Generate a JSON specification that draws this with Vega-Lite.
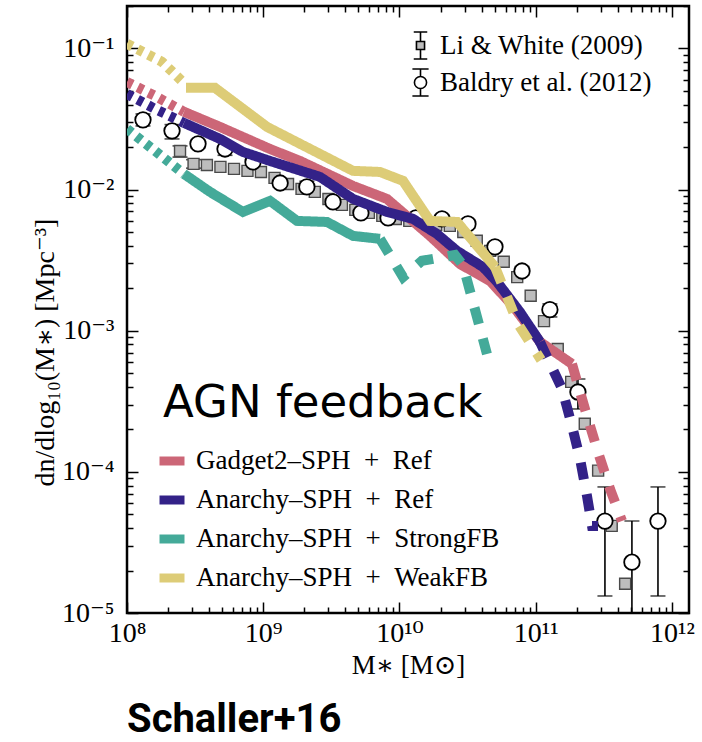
{
  "$schema": "https://vega.github.io/schema/vega-lite/v6.json",
  "width": 562,
  "height": 607,
  "autosize": {"type": "none"},
  "padding": {"left": 127, "top": 6, "right": 13, "bottom": 129},
  "background": "white",
  "title": {
    "text": "Schaller+16",
    "orient": "bottom",
    "anchor": "start",
    "frame": "group",
    "font": "Roboto",
    "fontSize": 40,
    "fontWeight": "bold",
    "color": "black",
    "offset": 22
  },
  "datasets": {
    "obs": [
      {"survey": "Li & White (2009)", "m": 2.45e8, "phi": 0.01879, "lo": 0.0170, "hi": 0.0204},
      {"survey": "Li & White (2009)", "m": 3.08e8, "phi": 0.01521, "lo": 0.01419, "hi": 0.0163},
      {"survey": "Li & White (2009)", "m": 3.86e8, "phi": 0.01496},
      {"survey": "Li & White (2009)", "m": 4.85e8, "phi": 0.01449},
      {"survey": "Li & White (2009)", "m": 6.10e8, "phi": 0.01403},
      {"survey": "Li & White (2009)", "m": 7.66e8, "phi": 0.01358},
      {"survey": "Li & White (2009)", "m": 9.62e8, "phi": 0.01334},
      {"survey": "Li & White (2009)", "m": 1.21e9, "phi": 0.01211},
      {"survey": "Li & White (2009)", "m": 1.52e9, "phi": 0.01096},
      {"survey": "Li & White (2009)", "m": 1.91e9, "phi": 0.01012},
      {"survey": "Li & White (2009)", "m": 2.39e9, "phi": 0.00964},
      {"survey": "Li & White (2009)", "m": 3.01e9, "phi": 0.00859},
      {"survey": "Li & White (2009)", "m": 3.78e9, "phi": 0.00780},
      {"survey": "Li & White (2009)", "m": 4.74e9, "phi": 0.00718},
      {"survey": "Li & White (2009)", "m": 5.96e9, "phi": 0.00684},
      {"survey": "Li & White (2009)", "m": 7.48e9, "phi": 0.00652},
      {"survey": "Li & White (2009)", "m": 9.40e9, "phi": 0.00619},
      {"survey": "Li & White (2009)", "m": 1.18e10, "phi": 0.00600},
      {"survey": "Li & White (2009)", "m": 1.48e10, "phi": 0.00581},
      {"survey": "Li & White (2009)", "m": 1.86e10, "phi": 0.00562},
      {"survey": "Li & White (2009)", "m": 2.34e10, "phi": 0.00553},
      {"survey": "Li & White (2009)", "m": 2.94e10, "phi": 0.00501},
      {"survey": "Li & White (2009)", "m": 3.69e10, "phi": 0.00434},
      {"survey": "Li & White (2009)", "m": 4.63e10, "phi": 0.00368},
      {"survey": "Li & White (2009)", "m": 5.82e10, "phi": 0.00308},
      {"survey": "Li & White (2009)", "m": 7.31e10, "phi": 0.00240},
      {"survey": "Li & White (2009)", "m": 9.18e10, "phi": 0.00177},
      {"survey": "Li & White (2009)", "m": 1.15e11, "phi": 0.00117},
      {"survey": "Li & White (2009)", "m": 1.45e11, "phi": 0.000743},
      {"survey": "Li & White (2009)", "m": 1.82e11, "phi": 0.000434},
      {"survey": "Li & White (2009)", "m": 2.29e11, "phi": 0.000219},
      {"survey": "Li & White (2009)", "m": 2.87e11, "phi": 0.000102},
      {"survey": "Li & White (2009)", "m": 3.61e11, "phi": 0.0000414},
      {"survey": "Li & White (2009)", "m": 4.53e11, "phi": 0.0000161},
      {"survey": "Baldry et al. (2012)", "m": 1.31e8, "phi": 0.0312, "lo": 0.02825, "hi": 0.03436},
      {"survey": "Baldry et al. (2012)", "m": 2.14e8, "phi": 0.0261, "lo": 0.02286, "hi": 0.0289},
      {"survey": "Baldry et al. (2012)", "m": 3.32e8, "phi": 0.0211, "lo": 0.0197, "hi": 0.0226},
      {"survey": "Baldry et al. (2012)", "m": 5.24e8, "phi": 0.0194, "lo": 0.0175, "hi": 0.0215},
      {"survey": "Baldry et al. (2012)", "m": 8.41e8, "phi": 0.0157, "lo": 0.01415, "hi": 0.01742},
      {"survey": "Baldry et al. (2012)", "m": 1.33e9, "phi": 0.01114, "lo": 0.0104, "hi": 0.01194},
      {"survey": "Baldry et al. (2012)", "m": 2.09e9, "phi": 0.01045, "lo": 0.00953, "hi": 0.01146},
      {"survey": "Baldry et al. (2012)", "m": 3.25e9, "phi": 0.00818, "lo": 0.00764, "hi": 0.00877},
      {"survey": "Baldry et al. (2012)", "m": 5.21e9, "phi": 0.00684, "lo": 0.00638, "hi": 0.00733},
      {"survey": "Baldry et al. (2012)", "m": 8.24e9, "phi": 0.00630, "lo": 0.00588, "hi": 0.00675},
      {"survey": "Baldry et al. (2012)", "m": 1.32e10, "phi": 0.00630, "lo": 0.00588, "hi": 0.00675},
      {"survey": "Baldry et al. (2012)", "m": 2.05e10, "phi": 0.00620, "lo": 0.00579, "hi": 0.00664},
      {"survey": "Baldry et al. (2012)", "m": 3.18e10, "phi": 0.00571, "lo": 0.00533, "hi": 0.00612},
      {"survey": "Baldry et al. (2012)", "m": 5.02e10, "phi": 0.00393, "lo": 0.00366, "hi": 0.00421},
      {"survey": "Baldry et al. (2012)", "m": 7.93e10, "phi": 0.00265, "lo": 0.00248, "hi": 0.00285},
      {"survey": "Baldry et al. (2012)", "m": 1.27e11, "phi": 0.00141, "lo": 0.001253, "hi": 0.001549},
      {"survey": "Baldry et al. (2012)", "m": 2.04e11, "phi": 0.000368, "lo": 0.000279, "hi": 0.000455},
      {"survey": "Baldry et al. (2012)", "m": 3.22e11, "phi": 0.0000448, "lo": 0.0000132, "hi": 0.0000782},
      {"survey": "Baldry et al. (2012)", "m": 5.08e11, "phi": 0.0000229, "lo": 0.000001, "hi": 0.0000449},
      {"survey": "Baldry et al. (2012)", "m": 7.89e11, "phi": 0.0000448, "lo": 0.0000132, "hi": 0.0000782}
    ],
    "sims": [
      {"model": "Gadget2–SPH + Ref", "part": "dotted", "m": 1.0e8, "phi": 0.0579},
      {"model": "Gadget2–SPH + Ref", "part": "dotted", "m": 1.607e8, "phi": 0.0461},
      {"model": "Gadget2–SPH + Ref", "part": "dotted", "m": 2.618e8, "phi": 0.0356},
      {"model": "Gadget2–SPH + Ref", "part": "solid", "m": 2.618e8, "phi": 0.0356},
      {"model": "Gadget2–SPH + Ref", "part": "solid", "m": 4.819e8, "phi": 0.0278},
      {"model": "Gadget2–SPH + Ref", "part": "solid", "m": 1.122e9, "phi": 0.0194},
      {"model": "Gadget2–SPH + Ref", "part": "solid", "m": 1.862e9, "phi": 0.01596},
      {"model": "Gadget2–SPH + Ref", "part": "solid", "m": 4.560e9, "phi": 0.01062},
      {"model": "Gadget2–SPH + Ref", "part": "solid", "m": 8.091e9, "phi": 0.00859},
      {"model": "Gadget2–SPH + Ref", "part": "solid", "m": 1.675e10, "phi": 0.00470},
      {"model": "Gadget2–SPH + Ref", "part": "solid", "m": 2.780e10, "phi": 0.00297},
      {"model": "Gadget2–SPH + Ref", "part": "solid", "m": 4.613e10, "phi": 0.002254},
      {"model": "Gadget2–SPH + Ref", "part": "solid", "m": 6.808e10, "phi": 0.00150},
      {"model": "Gadget2–SPH + Ref", "part": "solid", "m": 1.074e11, "phi": 0.000834},
      {"model": "Gadget2–SPH + Ref", "part": "solid", "m": 1.845e11, "phi": 0.000582},
      {"model": "Gadget2–SPH + Ref", "part": "dashed", "m": 1.845e11, "phi": 0.000582},
      {"model": "Gadget2–SPH + Ref", "part": "dashed", "m": 2.296e11, "phi": 0.000279},
      {"model": "Gadget2–SPH + Ref", "part": "dashed", "m": 2.864e11, "phi": 0.000138},
      {"model": "Gadget2–SPH + Ref", "part": "dashed", "m": 3.508e11, "phi": 0.0000757},
      {"model": "Gadget2–SPH + Ref", "part": "dashed", "m": 4.295e11, "phi": 0.0000449},
      {"model": "Anarchy–SPH + Ref", "part": "dotted", "m": 1.0e8, "phi": 0.0476},
      {"model": "Anarchy–SPH + Ref", "part": "dotted", "m": 1.607e8, "phi": 0.0373},
      {"model": "Anarchy–SPH + Ref", "part": "dotted", "m": 2.618e8, "phi": 0.0297},
      {"model": "Anarchy–SPH + Ref", "part": "solid", "m": 2.618e8, "phi": 0.0297},
      {"model": "Anarchy–SPH + Ref", "part": "solid", "m": 4.819e8, "phi": 0.02286},
      {"model": "Anarchy–SPH + Ref", "part": "solid", "m": 7.096e8, "phi": 0.01849},
      {"model": "Anarchy–SPH + Ref", "part": "solid", "m": 1.122e9, "phi": 0.01596},
      {"model": "Anarchy–SPH + Ref", "part": "solid", "m": 2.612e9, "phi": 0.01230},
      {"model": "Anarchy–SPH + Ref", "part": "solid", "m": 4.560e9, "phi": 0.00859},
      {"model": "Anarchy–SPH + Ref", "part": "solid", "m": 8.091e9, "phi": 0.00695},
      {"model": "Anarchy–SPH + Ref", "part": "solid", "m": 1.256e10, "phi": 0.00620},
      {"model": "Anarchy–SPH + Ref", "part": "solid", "m": 1.884e10, "phi": 0.00485},
      {"model": "Anarchy–SPH + Ref", "part": "solid", "m": 2.642e10, "phi": 0.00368},
      {"model": "Anarchy–SPH + Ref", "part": "solid", "m": 4.102e10, "phi": 0.00283},
      {"model": "Anarchy–SPH + Ref", "part": "solid", "m": 5.200e10, "phi": 0.00222},
      {"model": "Anarchy–SPH + Ref", "part": "solid", "m": 7.656e10, "phi": 0.001358},
      {"model": "Anarchy–SPH + Ref", "part": "solid", "m": 1.074e11, "phi": 0.000834},
      {"model": "Anarchy–SPH + Ref", "part": "dashed", "m": 1.074e11, "phi": 0.000834},
      {"model": "Anarchy–SPH + Ref", "part": "dashed", "m": 1.560e11, "phi": 0.000387},
      {"model": "Anarchy–SPH + Ref", "part": "dashed", "m": 1.845e11, "phi": 0.000212},
      {"model": "Anarchy–SPH + Ref", "part": "dashed", "m": 2.113e11, "phi": 0.000124},
      {"model": "Anarchy–SPH + Ref", "part": "dashed", "m": 2.377e11, "phi": 0.0000676},
      {"model": "Anarchy–SPH + Ref", "part": "dashed", "m": 2.588e11, "phi": 0.0000414},
      {"model": "Anarchy–SPH + Ref", "part": "dashed", "m": 2.864e11, "phi": 0.0000414},
      {"model": "Anarchy–SPH + StrongFB", "part": "dotted", "m": 1.0e8, "phi": 0.0269},
      {"model": "Anarchy–SPH + StrongFB", "part": "dotted", "m": 1.607e8, "phi": 0.01879},
      {"model": "Anarchy–SPH + StrongFB", "part": "dotted", "m": 2.618e8, "phi": 0.01291},
      {"model": "Anarchy–SPH + StrongFB", "part": "solid", "m": 2.618e8, "phi": 0.01291},
      {"model": "Anarchy–SPH + StrongFB", "part": "solid", "m": 4.064e8, "phi": 0.00964},
      {"model": "Anarchy–SPH + StrongFB", "part": "solid", "m": 7.096e8, "phi": 0.00695},
      {"model": "Anarchy–SPH + StrongFB", "part": "solid", "m": 1.122e9, "phi": 0.00832},
      {"model": "Anarchy–SPH + StrongFB", "part": "solid", "m": 1.770e9, "phi": 0.00600},
      {"model": "Anarchy–SPH + StrongFB", "part": "solid", "m": 2.938e9, "phi": 0.00590},
      {"model": "Anarchy–SPH + StrongFB", "part": "solid", "m": 4.560e9, "phi": 0.00470},
      {"model": "Anarchy–SPH + StrongFB", "part": "solid", "m": 7.194e9, "phi": 0.00448},
      {"model": "Anarchy–SPH + StrongFB", "part": "dashed", "m": 7.194e9, "phi": 0.00448},
      {"model": "Anarchy–SPH + StrongFB", "part": "dashed", "m": 1.062e10, "phi": 0.00240},
      {"model": "Anarchy–SPH + StrongFB", "part": "dashed", "m": 1.462e10, "phi": 0.00313},
      {"model": "Anarchy–SPH + StrongFB", "part": "dashed", "m": 2.553e10, "phi": 0.00344},
      {"model": "Anarchy–SPH + StrongFB", "part": "dashed", "m": 2.924e10, "phi": 0.00292},
      {"model": "Anarchy–SPH + StrongFB", "part": "dashed", "m": 4.385e10, "phi": 0.000685},
      {"model": "Anarchy–SPH + WeakFB", "part": "dotted", "m": 1.0e8, "phi": 0.108},
      {"model": "Anarchy–SPH + WeakFB", "part": "dotted", "m": 1.807e8, "phi": 0.0804},
      {"model": "Anarchy–SPH + WeakFB", "part": "dotted", "m": 2.618e8, "phi": 0.0570},
      {"model": "Anarchy–SPH + WeakFB", "part": "solid", "m": 2.710e8, "phi": 0.0526},
      {"model": "Anarchy–SPH + WeakFB", "part": "solid", "m": 4.426e8, "phi": 0.0526},
      {"model": "Anarchy–SPH + WeakFB", "part": "solid", "m": 1.067e9, "phi": 0.0278},
      {"model": "Anarchy–SPH + WeakFB", "part": "solid", "m": 4.560e9, "phi": 0.01358},
      {"model": "Anarchy–SPH + WeakFB", "part": "solid", "m": 7.194e9, "phi": 0.01334},
      {"model": "Anarchy–SPH + WeakFB", "part": "solid", "m": 1.062e10, "phi": 0.01153},
      {"model": "Anarchy–SPH + WeakFB", "part": "solid", "m": 1.675e10, "phi": 0.00600},
      {"model": "Anarchy–SPH + WeakFB", "part": "solid", "m": 2.642e10, "phi": 0.00590},
      {"model": "Anarchy–SPH + WeakFB", "part": "solid", "m": 5.023e10, "phi": 0.00283},
      {"model": "Anarchy–SPH + WeakFB", "part": "dashed", "m": 5.023e10, "phi": 0.00283},
      {"model": "Anarchy–SPH + WeakFB", "part": "dashed", "m": 7.41e10, "phi": 0.001117},
      {"model": "Anarchy–SPH + WeakFB", "part": "dashed", "m": 1.094e11, "phi": 0.000621}
    ],
    "note": [
      {"label": "AGN feedback", "m": 1.84e8, "phi": 0.000245}
    ]
  },
  "layer": [
    {
      "data": {"name": "obs"},
      "transform": [{"filter": "isValid(datum.lo)"}],
      "mark": {"type": "rule", "color": "black", "strokeWidth": 1.6, "clip": true},
      "encoding": {
        "x": {
          "field": "m",
          "type": "quantitative",
          "scale": {"type": "log", "domain": [1e8, 1.333e12], "nice": false},
          "axis": {
            "orient": "bottom",
            "values": [1e8, 2e8, 3e8, 4e8, 5e8, 6e8, 7e8, 8e8, 9e8, 1e9, 2e9, 3e9, 4e9, 5e9, 6e9, 7e9, 8e9, 9e9, 1e10, 2e10, 3e10, 4e10, 5e10, 6e10, 7e10, 8e10, 9e10, 1e11, 2e11, 3e11, 4e11, 5e11, 6e11, 7e11, 8e11, 9e11, 1e12],
            "tickSize": {"condition": {"test": "abs(log(datum.value)/LN10 - round(log(datum.value)/LN10)) < 1e-6", "value": -11}, "value": -6},
            "labelExpr": "abs(log(datum.value)/LN10 - round(log(datum.value)/LN10)) < 1e-6 ? ['10⁸','10⁹','10¹⁰','10¹¹','10¹²'][round(log(datum.value)/LN10) - 8] : ''",
            "labelPadding": 17,
            "title": "M∗ [M⊙]",
            "titleY": 52,
            "titleBaseline": "middle"
          }
        },
        "y": {
          "field": "lo",
          "type": "quantitative",
          "scale": {"type": "log", "domain": [1e-5, 0.2], "nice": false},
          "axis": {
            "orient": "left",
            "values": [1e-5, 2e-5, 3e-5, 4e-5, 5e-5, 6e-5, 7e-5, 8e-5, 9e-5, 1e-4, 2e-4, 3e-4, 4e-4, 5e-4, 6e-4, 7e-4, 8e-4, 9e-4, 0.001, 0.002, 0.003, 0.004, 0.005, 0.006, 0.007, 0.008, 0.009, 0.01, 0.02, 0.03, 0.04, 0.05, 0.06, 0.07, 0.08, 0.09, 0.1, 0.2],
            "tickSize": {"condition": {"test": "abs(log(datum.value)/LN10 - round(log(datum.value)/LN10)) < 1e-6", "value": -11}, "value": -6},
            "labelExpr": "abs(log(datum.value)/LN10 - round(log(datum.value)/LN10)) < 1e-6 ? ['10⁻⁵','10⁻⁴','10⁻³','10⁻²','10⁻¹'][round(log(datum.value)/LN10) + 5] : ''",
            "labelPadding": 24,
            "title": "dn/dlog₁₀(M∗) [Mpc⁻³]",
            "titleFontSize": 28,
            "titleX": -82,
            "titleY": 346,
            "titleBaseline": "middle"
          }
        },
        "y2": {"field": "hi"}
      }
    },
    {
      "data": {"name": "obs"},
      "transform": [
        {"filter": "isValid(datum.lo)"},
        {"fold": ["lo", "hi"], "as": ["bound", "errv"]}
      ],
      "mark": {"type": "tick", "orient": "horizontal", "color": "black", "size": 15, "thickness": 1.6, "clip": true},
      "encoding": {
        "x": {
          "field": "m",
          "type": "quantitative",
          "axis": {
            "orient": "top",
            "values": [1e8, 2e8, 3e8, 4e8, 5e8, 6e8, 7e8, 8e8, 9e8, 1e9, 2e9, 3e9, 4e9, 5e9, 6e9, 7e9, 8e9, 9e9, 1e10, 2e10, 3e10, 4e10, 5e10, 6e10, 7e10, 8e10, 9e10, 1e11, 2e11, 3e11, 4e11, 5e11, 6e11, 7e11, 8e11, 9e11, 1e12],
            "tickSize": {"condition": {"test": "abs(log(datum.value)/LN10 - round(log(datum.value)/LN10)) < 1e-6", "value": -11}, "value": -6},
            "labels": false,
            "title": null
          }
        },
        "y": {
          "field": "errv",
          "type": "quantitative",
          "axis": {
            "orient": "right",
            "values": [1e-5, 2e-5, 3e-5, 4e-5, 5e-5, 6e-5, 7e-5, 8e-5, 9e-5, 1e-4, 2e-4, 3e-4, 4e-4, 5e-4, 6e-4, 7e-4, 8e-4, 9e-4, 0.001, 0.002, 0.003, 0.004, 0.005, 0.006, 0.007, 0.008, 0.009, 0.01, 0.02, 0.03, 0.04, 0.05, 0.06, 0.07, 0.08, 0.09, 0.1, 0.2],
            "tickSize": {"condition": {"test": "abs(log(datum.value)/LN10 - round(log(datum.value)/LN10)) < 1e-6", "value": -11}, "value": -6},
            "labels": false,
            "title": null
          }
        }
      }
    },
    {
      "data": {"name": "obs"},
      "transform": [{"filter": "datum.survey === 'Li & White (2009)'"}],
      "mark": {"type": "point", "shape": "square", "filled": true, "fill": "#bdbdbd", "stroke": "#4a4a4a", "strokeWidth": 1.4, "size": 121, "opacity": 1, "clip": true},
      "encoding": {
        "x": {"field": "m", "type": "quantitative", "axis": null},
        "y": {"field": "phi", "type": "quantitative", "axis": null}
      }
    },
    {
      "data": {"name": "obs"},
      "transform": [{"filter": "datum.survey === 'Baldry et al. (2012)'"}],
      "mark": {"type": "point", "shape": "circle", "filled": true, "fill": "#ffffff", "stroke": "black", "strokeWidth": 1.8, "size": 240, "opacity": 1, "clip": true},
      "encoding": {
        "x": {"field": "m", "type": "quantitative", "axis": null},
        "y": {"field": "phi", "type": "quantitative", "axis": null}
      }
    },
    {
      "data": {"name": "obs"},
      "mark": {"type": "point", "filled": true, "opacity": 0, "strokeWidth": 1.6, "size": 729},
      "encoding": {
        "x": {"field": "m", "type": "quantitative", "axis": null},
        "y": {"field": "phi", "type": "quantitative", "axis": null},
        "shape": {
          "field": "survey",
          "type": "nominal",
          "scale": {
            "domain": ["Li & White (2009)", "Baldry et al. (2012)"],
            "range": [
              "M-0.5,-1H0.5M0,-1V-0.3M0,0.3V1M-0.5,1H0.5M-0.3,-0.3H0.3V0.3H-0.3Z",
              "M-0.6,-1H0.6M0,-1V-0.45M0,0.45V1M-0.6,1H0.6M0.45,0A0.45,0.45,0,1,1,-0.45,0A0.45,0.45,0,1,1,0.45,0Z"
            ]
          },
          "legend": {
            "title": null,
            "orient": "none",
            "legendX": 279,
            "legendY": 25,
            "symbolSize": 729,
            "symbolOpacity": 1,
            "symbolStrokeWidth": 1.6,
            "labelOffset": 5,
            "rowPadding": 2
          }
        },
        "fill": {
          "field": "survey",
          "type": "nominal",
          "scale": {
            "domain": ["Li & White (2009)", "Baldry et al. (2012)"],
            "range": ["#bdbdbd", "#ffffff"]
          },
          "legend": {
            "title": null,
            "orient": "none",
            "legendX": 279,
            "legendY": 25,
            "symbolSize": 729,
            "symbolOpacity": 1,
            "symbolStrokeWidth": 1.6,
            "labelOffset": 5,
            "rowPadding": 2
          }
        },
        "stroke": {
          "field": "survey",
          "type": "nominal",
          "scale": {
            "domain": ["Li & White (2009)", "Baldry et al. (2012)"],
            "range": ["#000000", "#000000"]
          },
          "legend": {
            "title": null,
            "orient": "none",
            "legendX": 279,
            "legendY": 25,
            "symbolSize": 729,
            "symbolOpacity": 1,
            "symbolStrokeWidth": 1.6,
            "labelOffset": 5,
            "rowPadding": 2
          }
        }
      }
    },
    {
      "data": {"name": "sims"},
      "mark": {"type": "line", "strokeWidth": 10, "strokeCap": "butt", "strokeJoin": "miter", "strokeMiterLimit": 4, "clip": true},
      "encoding": {
        "x": {"field": "m", "type": "quantitative", "axis": null},
        "y": {"field": "phi", "type": "quantitative", "axis": null},
        "stroke": {
          "field": "model",
          "type": "nominal",
          "scale": {
            "domain": ["Gadget2–SPH + Ref", "Anarchy–SPH + Ref", "Anarchy–SPH + StrongFB", "Anarchy–SPH + WeakFB"],
            "range": ["#CC6677", "#332288", "#44AA99", "#DDCC77"]
          },
          "legend": {
            "title": null,
            "orient": "none",
            "legendX": 28,
            "legendY": 438,
            "symbolType": "stroke",
            "symbolSize": 625,
            "symbolStrokeWidth": 9,
            "labelOffset": 7,
            "rowPadding": 3,
            "labelExpr": "replace(datum.label, ' + ', '\u2002+\u2002')"
          }
        },
        "strokeDash": {
          "field": "part",
          "type": "nominal",
          "scale": {"domain": ["dotted", "solid", "dashed"], "range": [[6, 6], [1, 0], [17, 15]]},
          "legend": null
        }
      }
    },
    {
      "data": {"name": "note"},
      "mark": {"type": "text", "font": "DejaVu Sans", "fontSize": 45, "align": "left", "baseline": "alphabetic", "color": "black"},
      "encoding": {
        "x": {"field": "m", "type": "quantitative", "axis": null},
        "y": {"field": "phi", "type": "quantitative", "axis": null},
        "text": {"field": "label"}
      }
    }
  ],
  "resolve": {
    "axis": {"x": "independent", "y": "independent"},
    "scale": {"shape": "independent", "fill": "independent", "stroke": "independent"}
  },
  "config": {
    "view": {"stroke": "black", "strokeWidth": 2.5},
    "axis": {
      "domain": false,
      "grid": false,
      "ticks": true,
      "tickColor": "black",
      "tickWidth": 1.5,
      "labelFont": "Liberation Serif, DejaVu Serif",
      "labelFontSize": 28,
      "labelColor": "black",
      "labelFlush": false,
      "labelOverlap": false,
      "titleFont": "Liberation Serif, DejaVu Serif",
      "titleFontSize": 27,
      "titleFontWeight": "normal",
      "titleColor": "black"
    },
    "legend": {
      "labelFont": "Liberation Serif",
      "labelFontSize": 27,
      "labelColor": "black",
      "labelLimit": 0,
      "padding": 0,
      "rowPadding": 11
    }
  }
}
